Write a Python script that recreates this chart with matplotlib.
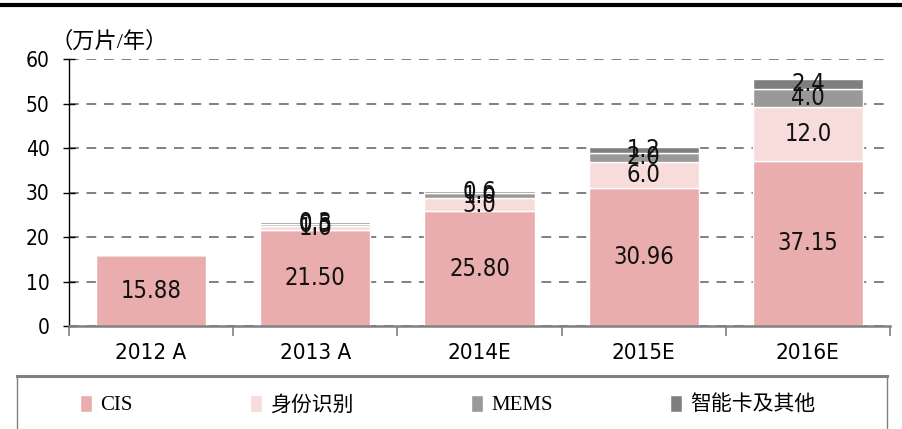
import matplotlib.pyplot as plt
import numpy as np
from matplotlib.lines import Line2D
from matplotlib.patches import Rectangle

years = ["2012 A", "2013 A", "2014E", "2015E", "2016E"]
cis = [15.88, 21.50, 25.80, 30.96, 37.15]
id_card = [0, 1.0, 3.0, 6.0, 12.0]
mems = [0, 0.5, 1.0, 2.0, 4.0]
smart = [0, 0.3, 0.6, 1.2, 2.4]

series = [
    ("CIS", cis, "#E8ADAC", "%.2f"),
    ("身份识别", id_card, "#F8DCDC", "%.1f"),
    ("MEMS", mems, "#999999", "%.1f"),
    ("智能卡及其他", smart, "#7F7F7F", "%.1f"),
]

narrow = ["DejaVu Sans"]
cjk = ["Liberation Serif", "Noto Sans CJK SC", "DejaVu Sans"]

fig = plt.figure(figsize=(9.03, 4.29), dpi=100)
ax = fig.add_axes([69 / 903, 1 - 326 / 429, 821 / 903, 267 / 429])

x = np.arange(len(years))
bottom = np.zeros(len(years))
handles = []
for name, vals, color, fmt in series:
    vals = np.array(vals, dtype=float)
    bars = ax.bar(x, vals, width=0.67, bottom=bottom, color=color,
                  edgecolor="white", linewidth=1, label=name, zorder=2)
    labels = [fmt % v if v > 0 else "" for v in vals]
    ax.bar_label(bars, labels=labels, label_type="center",
                 fontsize=17, family=narrow, fontstretch="condensed",
                 color="#111111")
    bottom += vals
    handles.append(bars)

ax.set_xlim(-0.5, len(years) - 0.5)
ax.set_ylim(0, 60)
ax.set_yticks(range(0, 61, 10))
ax.set_xticks(x)
ax.set_xticklabels(years, fontsize=16, family=narrow, fontstretch="condensed")
ax.set_xticks(np.arange(-0.5, len(years)), minor=True)
ax.tick_params(axis="x", which="major", length=0, pad=12)
ax.tick_params(axis="x", which="minor", length=7, color="#808080",
               width=1.2, direction="out")
ax.tick_params(axis="y", length=8, direction="inout", width=1, pad=10,
               labelsize=15)
for lab in ax.get_yticklabels():
    lab.set_family(narrow)
    lab.set_fontstretch("condensed")

ax.yaxis.grid(True, linestyle=(0, (5, 4)), color="#808080", linewidth=1.4,
              zorder=0)
ax.set_axisbelow(True)
for side in ("top", "right"):
    ax.spines[side].set_visible(False)
ax.spines["left"].set_color("black")
ax.spines["left"].set_linewidth(1)
ax.spines["bottom"].set_color("#808080")
ax.spines["bottom"].set_linewidth(1.8)
ax.spines["bottom"].set_zorder(3)

fig.text(50 / 903, 1 - 42 / 429, "（万片/年）", fontsize=16,
         family=cjk, va="center", ha="left")

# top rule
fig.add_artist(Line2D([0, 1], [1 - 5 / 429, 1 - 5 / 429],
                      color="black", linewidth=3))

# legend frame
fig.add_artist(Rectangle((17 / 903, -0.05), 870 / 903, 0.05 + 53 / 429,
                         fill=False, edgecolor="#808080", linewidth=1,
                         transform=fig.transFigure))
fig.add_artist(Line2D([17 / 903, 887 / 903], [53 / 429, 53 / 429],
                      color="#808080", linewidth=2.2))

fig.legend(handles=handles, loc="center left",
           bbox_to_anchor=(61 / 903, 1 - 405 / 429), ncol=4, frameon=False,
           prop={"family": cjk, "size": 15}, handlelength=0.6,
           handleheight=0.9, handletextpad=0.4, columnspacing=5.6)

fig.savefig("out.png", dpi=100)
